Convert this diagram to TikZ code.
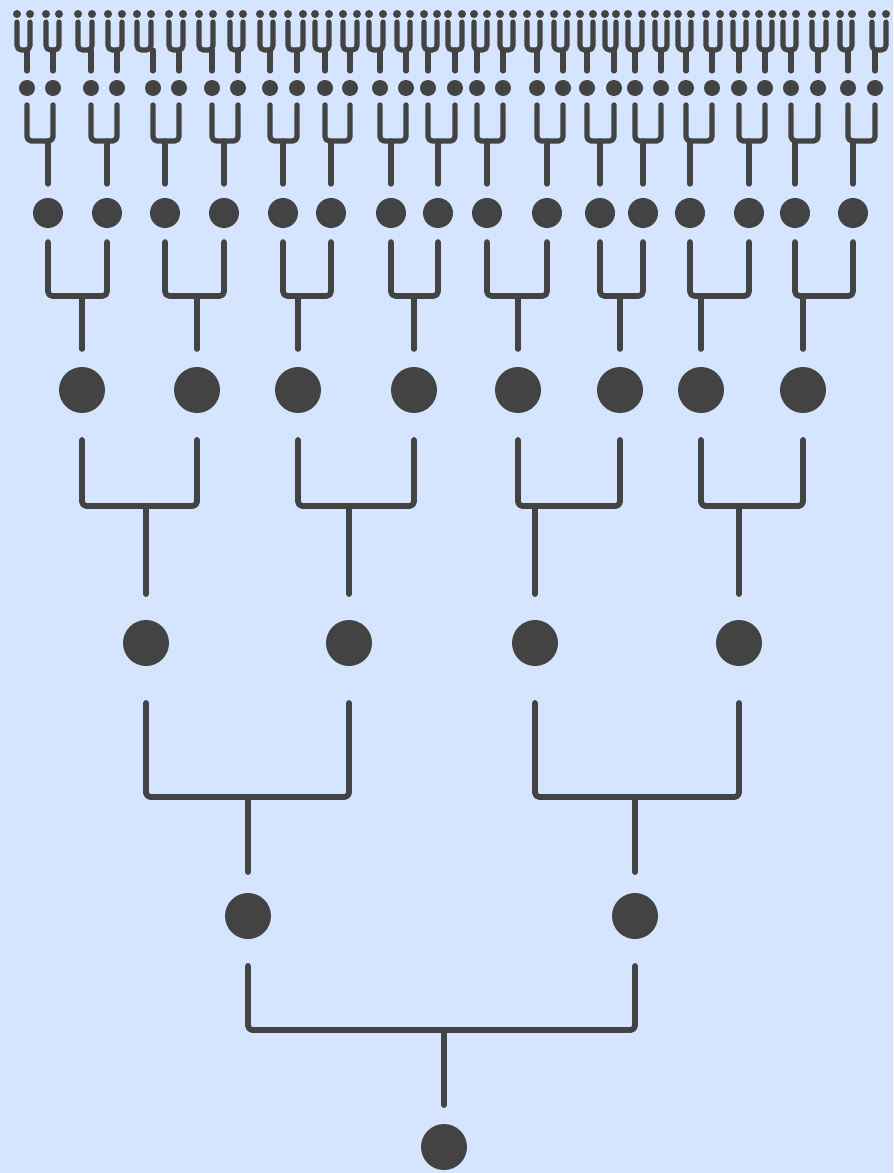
\documentclass[tikz,border=0pt]{standalone}
\usepackage{xcolor}
\definecolor{bgblue}{RGB}{213,228,255}
\definecolor{dotgrey}{RGB}{67,67,67}

\begin{document}
\begin{tikzpicture}[x=0.02cm,y=-0.02cm,
  dot/.style={circle,fill=dotgrey,inner sep=0pt,minimum size=#1},
  wire/.style={draw=dotgrey,line width=#1,line cap=round,line join=round,rounded corners=2.5pt},
  wire/.default=3.3pt]
\fill[color=bgblue] (0,0) rectangle (893,1173);

% the levels, top to bottom
\foreach \x [count=\i] in {17,30,46,59,78,92,108,122,137,151,169,183,199,213,230,243,
  260,273,288,303,315,329,343,357,369,383,397,410,424,437,448,462,
  474,487,500,513,527,540,554,567,580,593,605,616,628,642,655,667,
  678,691,706,720,733,746,759,772,783,796,812,826,840,852,872,886}
  \node[dot=0.16cm] (n6-\i) at (\x,14) {};
\foreach \x [count=\i] in {27,53,91,117,153,179,212,238,270,297,325,350,380,406,428,455,
  477,503,537,563,587,614,635,661,686,712,739,765,791,818,848,875}
  \node[dot=0.32cm] (n5-\i) at (\x,88) {};
\foreach \x [count=\i] in {48,107,165,224,283,331,391,438,487,547,600,643,690,749,795,853}
  \node[dot=0.6cm] (n4-\i) at (\x,213) {};
\foreach \x [count=\i] in {82,197,298,414,518,620,701,803}
  \node[dot=0.92cm] (n3-\i) at (\x,390) {};
\foreach \x [count=\i] in {146,349,535,739}
  \node[dot=0.92cm] (n2-\i) at (\x,643) {};
\foreach \x [count=\i] in {248,635}
  \node[dot=0.92cm] (n1-\i) at (\x,916) {};
\node[dot=0.92cm] (n0-1) at (444,1147) {};

% forks: child level / parent level / parents / width / arm top / bar / stem end
\foreach \c/\p/\m/\w/\ya/\yb/\yc in {6/5/32/2.9pt/22/50/71, 5/4/16/3pt/105/141/184,
  4/3/8/3.2pt/242/296/349, 3/2/4/3.3pt/440/506/594, 2/1/2/3.3pt/703/797/872,
  1/0/1/3.3pt/966/1030/1105}{
  \foreach \i in {1,...,\m}{
    \pgfmathtruncatemacro\ca{2*\i-1}
    \pgfmathtruncatemacro\cb{2*\i}
    \draw[wire=\w] (n\c-\ca |- 0,\ya) -- (n\c-\ca |- 0,\yb) -- (n\c-\cb |- 0,\yb) -- (n\c-\cb |- 0,\ya);
    \draw[wire=\w] (n\p-\i |- 0,\yb) -- (n\p-\i |- 0,\yc);
  }
}
\end{tikzpicture}
\end{document}
